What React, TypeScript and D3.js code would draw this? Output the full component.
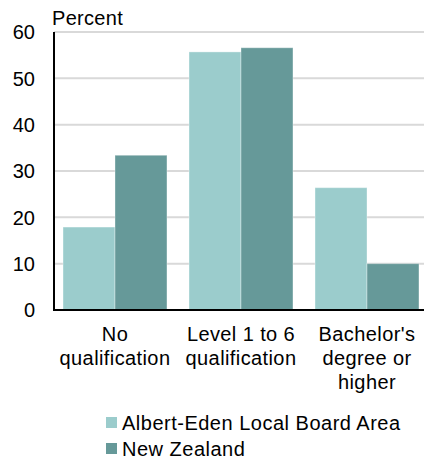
import * as d3 from "d3";
import * as React from "react";

// chart data
const categories = ["No qualification", "Level 1 to 6 qualification", "Bachelor's degree or higher"];
const categoryLines = [["No", "qualification"], ["Level 1 to 6", "qualification"], ["Bachelor's", "degree or", "higher"]];
const seriesNames = ["Albert-Eden Local Board Area", "New Zealand"];
const albertEden = [17.9, 55.7, 26.4];
const newZealand = [33.4, 56.6, 10.0];
const yTicks = [0, 10, 20, 30, 40, 50, 60];

const colors = ["#9bcccc", "#669999"];
const font = "'Liberation Sans', Arial, sans-serif";

export default function App() {
  const width = 424;
  const height = 461;

  const x = d3
    .scaleBand<string>()
    .domain(categories)
    .range([52, 430])
    .paddingInner(0.175)
    .paddingOuter(0.0875);

  const xSub = d3
    .scaleBand<string>()
    .domain(seriesNames)
    .range([0, x.bandwidth()]);

  const y = d3.scaleLinear().domain([0, 60]).range([310, 32]);

  const series = [albertEden, newZealand];

  return (
    <svg
      width={width}
      height={height}
      style={{ position: "absolute", left: 0, top: 0, background: "#fff" }}
      fontFamily={font}
      fontSize={20}
    >
      {/* gridlines */}
      {yTicks.map((t) => (
        <line key={"g" + t} x1={54} x2={width} y1={y(t)} y2={y(t)} stroke="#d9d9d9" strokeWidth={2} />
      ))}

      {/* bars */}
      {series.map((vals, si) => (
        <g key={"s" + si} fill={colors[si]}>
          {vals.map((v, ci) => (
            <rect
              key={ci}
              x={x(categories[ci])! + xSub(seriesNames[si])!}
              y={y(v)}
              width={xSub.bandwidth()}
              height={y(0) - y(v)}
              stroke="#ffffff"
              strokeOpacity={0.35}
              strokeWidth={1}
            />
          ))}
        </g>
      ))}

      {/* axes */}
      <line x1={54} x2={54} y1={y(60)} y2={y(0) + 1} stroke="#000" strokeWidth={2} />
      <line x1={53} x2={width} y1={y(0)} y2={y(0)} stroke="#000" strokeWidth={2} />

      {/* y tick labels */}
      {yTicks.map((t) => (
        <text key={"t" + t} x={35} y={y(t)} dy="0.36em" textAnchor="end" fill="#000">
          {t}
        </text>
      ))}
      <text x={52} y={25} fill="#000" letterSpacing={0.3}>Percent</text>

      {/* x labels */}
      {categoryLines.map((lines, ci) => (
        <text
          key={"c" + ci}
          x={x(categories[ci])! + x.bandwidth() / 2}
          textAnchor="middle"
          fill="#000"
          letterSpacing={0.4}
        >
          {lines.map((l, li) => (
            <tspan key={li} x={x(categories[ci])! + x.bandwidth() / 2} y={341 + li * 24}>
              {l}
            </tspan>
          ))}
        </text>
      ))}

      {/* legend */}
      {seriesNames.map((n, i) => (
        <g key={"l" + i} transform={`translate(106, ${417 + i * 26})`}>
          <rect width={11} height={11} fill={colors[i]} />
          <text x={16} y={13} fill="#000" letterSpacing={0.5}>
            {n}
          </text>
        </g>
      ))}
    </svg>
  );
}
